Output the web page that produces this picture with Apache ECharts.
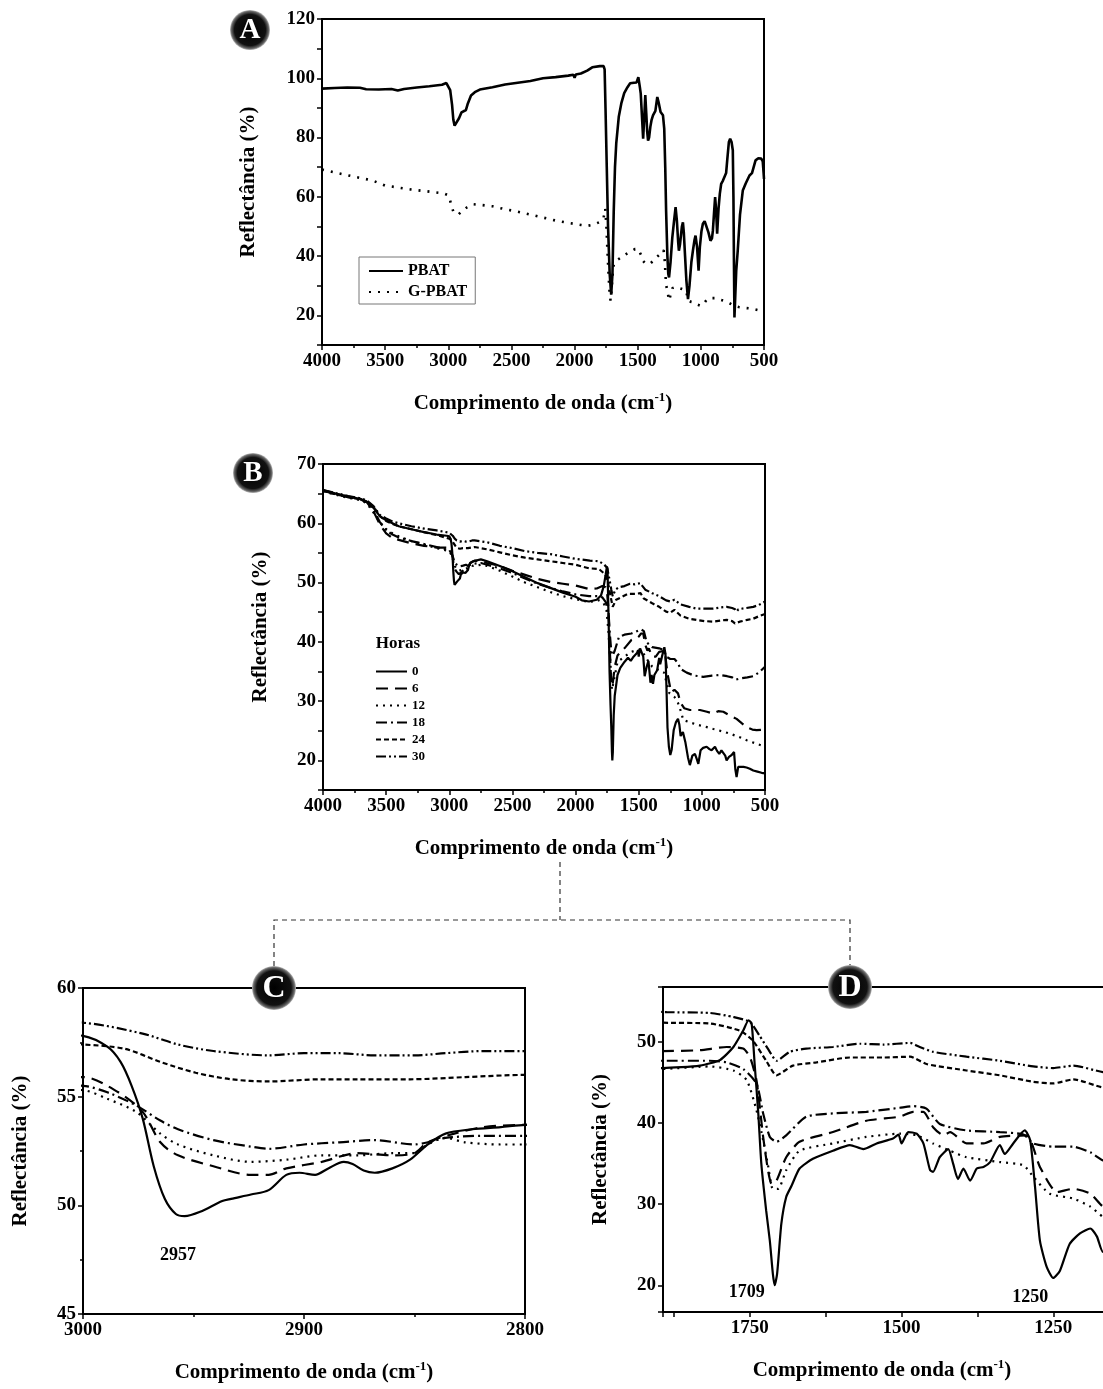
<!DOCTYPE html>
<html>
<head>
<meta charset="utf-8">
<script src="https://cdn.jsdelivr.net/npm/echarts@6/dist/echarts.min.js"></script>
<style>
  html, body { margin: 0; padding: 0; background: #fff; }
  #chart { width: 1103px; height: 1389px; }
</style>
</head>
<body>
<div id="chart"></div>
<script>
// ---- painel A: PBAT x G-PBAT  [numero de onda, reflectancia] ----
const aPBAT = [[4000,96.5],[3900,96.7],[3800,96.9],[3700,96.8],[3650,96.3],[3550,96.2],[3450,96.4],[3400,95.9],[3350,96.4],[3250,96.9],[3150,97.3],[3050,97.8],[3015,98.4],[3000,98.2],[2985,96],[2970,91],[2960,86],[2950,84],[2935,84.6],[2915,86.5],[2895,88.5],[2880,89],[2860,89.3],[2845,91.5],[2820,94.2],[2790,95.3],[2750,96.2],[2650,97],[2550,97.9],[2450,98.5],[2350,99.1],[2250,100],[2150,100.4],[2050,100.9],[2010,101.2],[2000,100.2],[1990,101.3],[1950,101.6],[1900,102.6],[1860,103.7],[1800,104.1],[1770,104.1],[1762,103],[1755,90],[1745,70],[1735,50],[1722,34],[1710,27],[1700,34],[1690,55],[1680,70],[1670,78],[1650,87],[1630,91.5],[1607,95],[1581,97],[1560,98.3],[1530,98.5],[1509,98.6],[1495,100.4],[1483,97],[1476,94.8],[1465,86],[1457,79.6],[1448,87],[1440,94.3],[1432,88],[1425,82],[1418,79],[1410,80],[1400,83.6],[1390,86],[1379,87.5],[1360,89],[1345,93.7],[1335,92],[1319,88.6],[1300,87.5],[1290,83],[1282,70],[1275,55],[1265,40],[1258,34],[1252,32.8],[1240,38],[1226,46.3],[1212,52],[1200,56.5],[1190,52],[1180,45],[1174,41.8],[1165,44],[1150,50],[1142,51.4],[1135,48],[1125,40],[1115,32],[1102,25.5],[1090,30],[1075,38],[1063,41.8],[1050,45.5],[1042,46.9],[1030,43],[1018,35.1],[1008,43],[995,48.5],[984,50.9],[970,51.8],[958,51.4],[940,48],[924,45.2],[912,46],[905,48.5],[895,55],[887,59.9],[880,56],[871,47.6],[860,56],[850,61],[839,64.4],[825,65.5],[813,66.1],[800,68],[790,73],[778,78.5],[768,79.6],[757,78.5],[747,75.7],[742,60],[738,38],[734,19.3],[728,26],[720,35],[708,41.8],[690,54],[668,62.1],[645,64.5],[615,67.2],[595,68],[567,72.3],[545,73],[522,72.9],[510,72],[503,68],[500,66]];
const aGPBAT = [[4000,69.2],[3800,67.3],[3600,65.5],[3500,63.8],[3300,62.5],[3100,61.5],[3040,61.2],[3000,60.5],[2990,59.5],[2975,57],[2960,55],[2940,54.5],[2920,54],[2890,55.3],[2850,56.5],[2800,57.5],[2750,57.3],[2650,56.8],[2550,55.8],[2450,55],[2350,54],[2250,53],[2150,52],[2050,51.2],[1950,50.5],[1900,50.2],[1850,50.6],[1800,51.5],[1770,53],[1757,56],[1748,50],[1740,42],[1730,33],[1722,27],[1715,25],[1708,28],[1700,33],[1690,37],[1670,38.5],[1640,39.3],[1600,40.5],[1560,41.5],[1520,42.4],[1495,42.3],[1475,40.5],[1460,38.5],[1440,37.5],[1420,37.5],[1400,37.5],[1380,38.3],[1360,39.3],[1340,40],[1310,41.2],[1295,42],[1285,38],[1278,32],[1270,29],[1260,27],[1250,25],[1240,27],[1225,29.2],[1200,29.6],[1170,29.2],[1140,28.8],[1120,28.5],[1110,27],[1100,25],[1075,24.5],[1050,24.3],[1025,23.6],[1000,23.2],[975,24],[950,25.5],[915,25.8],[880,25.8],[840,25.2],[800,24.7],[760,23.8],[740,23.3],[700,22.8],[650,22.5],[600,22.3],[550,21.8],[500,21.5]];

// ---- paineis B, C, D: G-PBAT apos 0..30 horas ----
const horas = ['0', '6', '12', '18', '24', '30'];
const b0 = [[4000,65.6],[3900,65.0],[3800,64.5],[3700,64.1],[3650,63.6],[3600,62.6],[3550,61.2],[3500,60.5],[3450,60.0],[3400,59.5],[3300,59.0],[3200,58.5],[3100,58.1],[3020,57.9],[3000,57.8],[2989,57.3],[2983,56.6],[2978,55.5],[2973,54.0],[2968,51.8],[2963,50.3],[2958,49.6],[2954,49.5],[2947,49.7],[2937,50.2],[2933,50.3],[2924,50.5],[2916,50.7],[2908,51.4],[2902,51.5],[2895,51.4],[2889,51.7],[2882,52.0],[2878,51.9],[2873,51.6],[2868,51.5],[2860,51.7],[2852,52.1],[2844,52.8],[2836,53.3],[2824,53.5],[2811,53.6],[2800,53.7],[2750,53.9],[2700,53.6],[2600,52.8],[2500,51.9],[2400,50.9],[2300,49.9],[2200,49.1],[2100,48.3],[2000,47.6],[1950,47.0],[1893,46.8],[1832,47.1],[1799,47.8],[1777,49.4],[1761,51.4],[1752,52.7],[1747,52.3],[1742,47.3],[1736,41.2],[1731,35.0],[1723,29.2],[1717,25.5],[1712,21.4],[1709,20.0],[1705,21.4],[1698,27.6],[1690,30.9],[1681,32.3],[1668,34.4],[1646,35.6],[1613,36.6],[1585,37.3],[1563,36.8],[1541,37.5],[1514,38.1],[1505,38.6],[1500,37.5],[1489,38.9],[1475,38.7],[1464,37.5],[1453,34.2],[1448,34.0],[1437,35.8],[1423,36.8],[1415,35.0],[1407,33.1],[1398,34.4],[1387,32.9],[1376,34.4],[1365,34.6],[1354,35.2],[1338,37.3],[1330,36.2],[1316,37.5],[1297,39.1],[1288,37.9],[1280,32.1],[1272,25.5],[1261,22.3],[1250,20.9],[1239,21.8],[1223,25.1],[1206,26.4],[1189,27.0],[1178,26.0],[1168,24.1],[1150,24.8],[1130,23],[1110,20.5],[1095,19.2],[1075,20.8],[1055,21.1],[1040,20.2],[1028,19.4],[1010,21.7],[990,22.1],[962,22.3],[940,21.9],[923,21.7],[910,22.0],[896,22.3],[880,21.6],[862,21.1],[845,21.7],[830,21.7],[815,20.8],[804,20.0],[785,20.6],[764,20.9],[745,21.4],[735,18.5],[725,17.2],[712,18.9],[698,18.9],[670,18.9],[646,18.8],[620,18.6],[593,18.3],[560,18.1],[527,17.9],[500,17.8]];
const b6 = [[4000,65.5],[3900,64.9],[3800,64.4],[3700,64.0],[3650,63.5],[3600,62.0],[3550,59.8],[3500,58.3],[3450,57.5],[3400,57.2],[3300,56.6],[3200,56.2],[3100,55.9],[3000,55.9],[2984,55.2],[2973,54.3],[2965,52.9],[2957,52.3],[2941,51.8],[2924,51.4],[2916,51.4],[2908,51.7],[2892,52.0],[2876,52.4],[2860,52.3],[2850,52.4],[2844,52.9],[2832,53.3],[2819,53.6],[2800,53.7],[2750,53.6],[2700,53.3],[2600,52.8],[2500,52.0],[2400,51.3],[2300,50.6],[2200,50.1],[2100,49.8],[2000,49.5],[1893,48.9],[1832,49.0],[1788,49.4],[1761,49.2],[1750,48.2],[1739,45.3],[1728,38.3],[1720,34.2],[1714,32.5],[1706,32.9],[1690,35.8],[1668,37.7],[1613,38.9],[1558,40.3],[1503,40.8],[1481,41.4],[1464,41.4],[1448,39.5],[1431,38.5],[1420,38.9],[1393,37.5],[1365,37.5],[1338,38.3],[1294,38.5],[1272,34.6],[1244,31.5],[1217,31.9],[1189,31.3],[1168,29.7],[1140,28.8],[1094,28.5],[1015,28.5],[960,28.2],[909,27.9],[870,28.3],[830,28.2],[780,27.6],[725,27.0],[680,26.2],[646,25.6],[600,25.2],[566,25.1],[500,25.2]];
const b12 = [[4000,65.4],[3900,64.8],[3800,64.3],[3700,63.9],[3650,63.3],[3600,61.8],[3550,60.2],[3500,59.0],[3450,58.3],[3400,57.8],[3300,57.0],[3200,56.4],[3100,55.8],[3000,55.3],[2989,54.9],[2976,54.3],[2965,53.3],[2957,52.8],[2941,52.3],[2924,52.0],[2908,52.1],[2892,52.3],[2876,52.3],[2860,52.4],[2850,52.4],[2844,52.8],[2836,53.1],[2827,52.9],[2811,52.8],[2800,52.8],[2750,53.0],[2700,52.8],[2600,52.0],[2500,51.0],[2400,50.0],[2300,49.2],[2200,48.4],[2100,47.7],[2000,47.2],[1893,46.7],[1816,47.0],[1777,46.5],[1755,45.3],[1739,41.6],[1728,37.9],[1720,34.8],[1712,31.9],[1703,31.9],[1690,34.2],[1668,36.6],[1613,37.5],[1558,38.3],[1503,38.7],[1475,38.5],[1448,37.5],[1420,36.6],[1393,35.8],[1338,35.2],[1299,34.8],[1283,33.4],[1256,31.3],[1217,30.7],[1189,29.7],[1168,28.4],[1147,26.8],[1080,26.3],[1015,25.9],[960,25.6],[909,25.3],[840,24.9],[777,24.5],[700,23.9],[646,23.4],[580,22.9],[500,22.3]];
const b18 = [[4000,65.5],[3900,65.0],[3800,64.5],[3700,64.1],[3650,63.6],[3600,62.3],[3550,60.2],[3500,58.8],[3450,58.1],[3400,57.6],[3300,57.0],[3200,56.5],[3100,56.0],[3000,55.5],[2989,55.2],[2976,54.6],[2965,53.9],[2957,53.5],[2941,53.0],[2924,52.7],[2916,52.6],[2900,52.8],[2884,52.9],[2868,53.0],[2850,52.8],[2844,52.9],[2836,53.1],[2819,53.2],[2800,53.2],[2750,53.3],[2700,53.0],[2600,52.4],[2500,51.6],[2400,50.7],[2300,49.8],[2200,49.1],[2100,48.5],[2000,48.0],[1893,47.7],[1816,47.7],[1788,47.5],[1761,46.7],[1739,44.9],[1728,41.2],[1717,38.3],[1706,37.7],[1690,38.5],[1657,40.8],[1613,41.2],[1558,41.4],[1503,41.9],[1481,42.1],[1459,41.8],[1437,39.9],[1393,39.1],[1338,38.9],[1299,38.6],[1283,37.5],[1250,37.1],[1217,37.1],[1189,36.4],[1168,35.4],[1120,34.8],[1060,34.3],[989,34.1],[920,34.3],[857,34.4],[800,34.2],[760,34.0],[735,33.6],[725,33.5],[700,33.8],[640,34.0],[593,34.2],[550,34.8],[500,35.8]];
const b24 = [[4000,65.5],[3900,64.9],[3800,64.4],[3700,64.0],[3650,63.6],[3600,62.8],[3550,61.2],[3500,60.4],[3450,59.9],[3400,59.5],[3300,59.0],[3200,58.5],[3100,58.0],[3000,57.4],[2981,57.2],[2965,56.6],[2949,56.1],[2933,55.8],[2916,55.7],[2892,55.8],[2876,55.8],[2852,55.8],[2827,55.9],[2800,56.0],[2700,55.6],[2600,55.1],[2500,54.6],[2400,54.2],[2300,53.9],[2200,53.6],[2100,53.3],[2000,53.0],[1893,52.4],[1816,52.3],[1766,51.4],[1745,50.2],[1723,47.7],[1706,45.9],[1679,47.1],[1640,47.5],[1585,48.1],[1530,48.1],[1486,48.2],[1459,47.3],[1393,46.5],[1338,45.9],[1283,45.1],[1250,44.9],[1217,45.4],[1168,44.4],[1100,43.9],[1041,43.7],[980,43.5],[909,43.4],[850,43.6],[804,43.7],[760,43.5],[738,43.1],[725,43.0],[700,43.4],[640,43.7],[593,43.9],[550,44.3],[500,44.7]];
const b30 = [[4000,65.6],[3900,65.1],[3800,64.6],[3700,64.2],[3650,63.8],[3600,62.9],[3550,61.4],[3500,60.8],[3450,60.3],[3400,60.0],[3300,59.5],[3200,59.1],[3100,58.8],[3000,58.4],[2973,57.9],[2957,57.4],[2941,57.1],[2916,56.9],[2900,57.0],[2884,57.0],[2868,56.9],[2850,56.9],[2836,57.0],[2819,57.1],[2800,57.1],[2700,56.8],[2600,56.2],[2500,55.8],[2400,55.3],[2300,55.0],[2200,54.8],[2100,54.4],[2000,54.0],[1887,53.7],[1816,53.6],[1777,53.1],[1750,52.5],[1734,50.8],[1717,48.8],[1706,47.7],[1684,48.8],[1657,49.2],[1613,49.4],[1569,49.8],[1530,49.7],[1486,49.9],[1470,49.4],[1448,48.8],[1393,48.2],[1338,47.7],[1283,47.0],[1250,46.8],[1217,47.1],[1168,46.3],[1100,45.9],[1041,45.6],[980,45.6],[909,45.6],[850,45.8],[804,45.9],[760,45.7],[738,45.5],[725,45.1],[710,45.5],[650,45.7],[593,45.9],[550,46.2],[500,46.8]];
const bSeries = [b0, b6, b12, b18, b24, b30];

// picos marcados
const cPeaks = [{ name: '2957', coord: [2957, 47.7] }];
const dPeaks = [{ name: '1709', coord: [1755, 19.1] }, { name: '1250', coord: [1288, 18.5] }];

const FONT = '"Liberation Serif", "Times New Roman", serif';
// tracejados de cada amostra
const dashes = { '0': 'solid', '6': [12, 7], '12': [2, 5], '18': [11, 4, 2, 4], '24': [5, 3], '30': [10, 3, 2, 3, 2, 3] };

const nameStyle = {
  color: '#000', fontFamily: FONT, fontWeight: 'bold', fontSize: 21, lineHeight: 26,
  rich: { sup: { fontFamily: FONT, fontWeight: 'bold', fontSize: 13, verticalAlign: 'top', lineHeight: 14 } }
};

function makeAxis(gi, o) {
  return {
    type: 'value', gridIndex: gi, min: o.min, max: o.max, interval: o.interval, inverse: !!o.inverse,
    name: o.name, nameLocation: 'middle', nameGap: o.nameGap,
    nameMoveOverlap: false, nameTextStyle: nameStyle,
    axisLine: { show: true, onZero: false, lineStyle: { color: '#000', width: 2 } },
    axisTick: { show: true, inside: false, length: 5, lineStyle: { color: '#000', width: 1.5 } },
    minorTick: { show: !!o.minor, splitNumber: 2, length: 3, lineStyle: { color: '#000', width: 1.5 } },
    splitLine: { show: false },
    axisLabel: {
      color: '#000', fontFamily: FONT, fontWeight: 'bold', fontSize: 19, margin: 7,
      formatter: (v) => (o.every ? (Math.abs(v % o.every) < 1e-6 ? String(v) : '') : String(v))
    }
  };
}

const xTitle = 'Comprimento de onda (cm{sup|-1})';
const yTitle = 'Reflectância (%)';

function lineSeries(name, data, gi, dash, width, smooth, peaks) {
  const s = {
    type: 'line', name: name, data: data, xAxisIndex: gi, yAxisIndex: gi,
    symbol: 'none', showSymbol: false, smooth: smooth || false, clip: true,
    lineStyle: { color: '#000', width: width, type: dash },
    itemStyle: { color: '#000' },
    emphasis: { disabled: true }
  };
  if (peaks) {
    s.markPoint = {
      symbol: 'rect', symbolSize: 1, itemStyle: { color: 'rgba(0,0,0,0)' },
      label: { show: true, position: 'inside', formatter: '{b}', color: '#000', fontFamily: FONT, fontWeight: 'bold', fontSize: 18 },
      data: peaks
    };
  }
  return s;
}

const series = [
  lineSeries('PBAT', aPBAT, 0, 'solid', 2.6),
  lineSeries('G-PBAT', aGPBAT, 0, [2, 7], 2.6)
];
horas.forEach((h, i) => series.push(lineSeries(h, bSeries[i], 1, dashes[h], 2.2)));
horas.forEach((h, i) => series.push(lineSeries(h, bSeries[i], 2, dashes[h], 2.2, 0.3, h === '0' ? cPeaks : null)));
horas.forEach((h, i) => series.push(lineSeries(h, bSeries[i], 3, dashes[h], 2.2, 0.2, h === '0' ? dPeaks : null)));

const gridBase = { show: true, borderColor: '#000', borderWidth: 2, backgroundColor: 'transparent', containLabel: false, outerBoundsMode: 'none' };

function ball(cx, cy, r, letter) {
  return [
    { type: 'circle', shape: { cx: cx, cy: cy, r: r }, z: 100,
      style: { fill: { type: 'radial', x: 0.5, y: 0.5, r: 0.5, colorStops: [
        { offset: 0, color: '#000' }, { offset: 0.78, color: '#111' }, { offset: 0.93, color: '#666' }, { offset: 1, color: '#bbb' }] } } },
    { type: 'text', x: cx, y: cy + 1, z: 101,
      style: { text: letter, fill: '#fff', fontFamily: FONT, fontWeight: 'bold', fontSize: Math.round(r * 1.45), align: 'center', verticalAlign: 'middle' } }
  ];
}

const dashLine = { stroke: '#333', lineWidth: 1.2, lineDash: [5, 4] };

// legenda so com a linha (sem simbolo)
const legendIconOff = { opacity: 0, color: 'rgba(0,0,0,0)', borderWidth: 0 };

const option = {
  backgroundColor: '#fff',
  animation: false,
  grid: [
    Object.assign({ left: 322, top: 19, width: 442, height: 326 }, gridBase),
    Object.assign({ left: 323, top: 464, width: 442, height: 326 }, gridBase),
    Object.assign({ left: 83, top: 988, width: 442, height: 326 }, gridBase),
    Object.assign({ left: 663, top: 987, width: 542, height: 325 }, gridBase)
  ],
  xAxis: [
    makeAxis(0, { min: 500, max: 4000, interval: 500, inverse: true, minor: true, name: xTitle, nameGap: 46 }),
    makeAxis(1, { min: 500, max: 4000, interval: 500, inverse: true, minor: true, name: xTitle, nameGap: 46 }),
    makeAxis(2, { min: 2800, max: 3000, interval: 100, inverse: true, minor: true, name: xTitle, nameGap: 46 }),
    makeAxis(3, { min: 1000, max: 1893, interval: 125, inverse: true, every: 250 })
  ],
  yAxis: [
    makeAxis(0, { min: 10, max: 120, interval: 10, every: 20, name: yTitle, nameGap: 60 }),
    makeAxis(1, { min: 15, max: 70, interval: 5, every: 10, name: yTitle, nameGap: 49 }),
    makeAxis(2, { min: 45, max: 60, interval: 5, minor: true, name: yTitle, nameGap: 49 }),
    makeAxis(3, { min: 16.7, max: 56.8, every: 10, name: yTitle, nameGap: 49 })
  ],
  legend: [
    {
      data: ['PBAT', 'G-PBAT'], orient: 'vertical', left: 359, top: 257,
      padding: [6, 8, 4, 9], itemWidth: 34, itemHeight: 14, itemGap: 5,
      borderColor: '#777', borderWidth: 1, selectedMode: false,
      itemStyle: legendIconOff,
      textStyle: { color: '#000', fontFamily: FONT, fontWeight: 'bold', fontSize: 16 }
    },
    {
      data: horas, orient: 'vertical', left: 375, top: 665,
      padding: 0, itemWidth: 31, itemHeight: 14, itemGap: 4, selectedMode: false,
      itemStyle: legendIconOff,
      textStyle: { color: '#000', fontFamily: FONT, fontWeight: 'bold', fontSize: 13 }
    }
  ],
  graphic: [].concat(
    ball(250, 30, 20, 'A'),
    ball(253, 473, 20, 'B'),
    ball(274, 988, 22, 'C'),
    ball(850, 987, 22, 'D'),
    [
      { type: 'polyline', z: 50, shape: { points: [[560, 862], [560, 920]] }, style: dashLine },
      { type: 'polyline', z: 50, shape: { points: [[274, 966], [274, 920], [850, 920], [850, 965]] }, style: Object.assign({ fill: null }, dashLine) },
      { type: 'text', x: 398, y: 644, z: 60,
        style: { text: 'Horas', fill: '#000', fontFamily: FONT, fontWeight: 'bold', fontSize: 17, align: 'center', verticalAlign: 'middle' } },
      { type: 'text', x: 882, y: 1371, z: 60,
        style: { text: xTitle, fill: '#000', fontFamily: FONT, fontWeight: 'bold', fontSize: 21, lineHeight: 26,
          align: 'center', verticalAlign: 'middle', rich: nameStyle.rich } }
    ]
  ),
  series: series
};

const myChart = echarts.init(document.getElementById('chart'), null, { renderer: 'canvas' });
myChart.setOption(option);
</script>
</body>
</html>
